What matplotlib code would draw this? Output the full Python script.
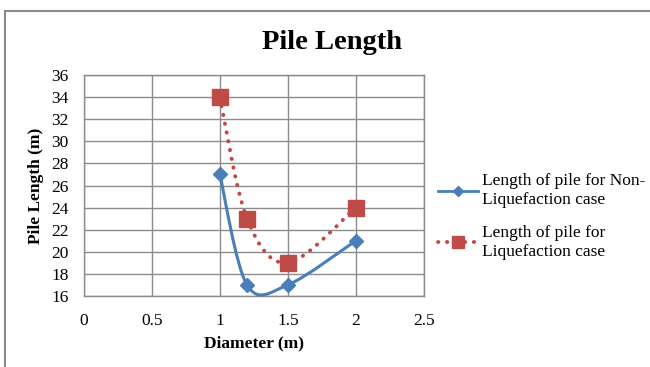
import matplotlib.pyplot as plt
from matplotlib.path import Path
from matplotlib.patches import PathPatch, Rectangle
from matplotlib.lines import Line2D

diameter = [1.0, 1.2, 1.5, 2.0]
non_liq = [27, 17, 17, 21]
liq = [34, 23, 19, 24]
xticks = [0, 0.5, 1, 1.5, 2, 2.5]
yticks = list(range(16, 37, 2))

blue = "#4a7ebb"
red = "#be4b48"
grid = "#8c8c8c"

plt.rcParams["font.family"] = ["Liberation Serif", "DejaVu Serif"]


def smooth_path(xs, ys):
    # Excel-style smoothed line: cubic Bezier through the points
    pts = list(zip(xs, ys))
    n = len(pts)
    verts = [pts[0]]
    codes = [Path.MOVETO]
    for i in range(n - 1):
        p0 = pts[max(i - 1, 0)]
        p1 = pts[i]
        p2 = pts[i + 1]
        p3 = pts[min(i + 2, n - 1)]
        c1 = (p1[0] + (p2[0] - p0[0]) / 6, p1[1] + (p2[1] - p0[1]) / 6)
        c2 = (p2[0] - (p3[0] - p1[0]) / 6, p2[1] - (p3[1] - p1[1]) / 6)
        verts += [c1, c2, p2]
        codes += [Path.CURVE4] * 3
    return Path(verts, codes)


fig = plt.figure(figsize=(6.5, 3.67), dpi=100)
ax = fig.add_axes([0.129, 0.1935, 0.523, 0.602])

ax.add_patch(PathPatch(smooth_path(diameter, non_liq), fill=False,
                       edgecolor=blue, lw=2.2, clip_on=False, zorder=3))
ax.add_patch(PathPatch(smooth_path(diameter, liq), fill=False,
                       edgecolor=red, lw=2.8, linestyle=(0, (0.1, 2.2)),
                       capstyle="round", clip_on=False, zorder=3))
ax.plot(diameter, non_liq, ls="none", marker="D", ms=7, color=blue,
        clip_on=False, zorder=4)
ax.plot(diameter, liq, ls="none", marker="s", ms=11, color=red,
        clip_on=False, zorder=4)

ax.set_xlim(0, 2.5)
ax.set_ylim(16, 36)
ax.set_xticks(xticks)
ax.set_xticklabels(["0", "0.5", "1", "1.5", "2", "2.5"])
ax.set_yticks(yticks)
ax.grid(True, color=grid, lw=1)
ax.set_axisbelow(True)
for s in ax.spines.values():
    s.set_color(grid)
    s.set_linewidth(1)
ax.tick_params(length=0, labelsize=12.5)
ax.tick_params(axis="y", pad=11)
ax.tick_params(axis="x", pad=12)

ax.set_xlabel("Diameter (m)", fontsize=12.5, fontweight="bold", labelpad=5)
ax.set_ylabel("Pile Length (m)", fontsize=12.5, fontweight="bold", labelpad=5)
fig.text(0.51, 1 - 49 / 367, "Pile Length", ha="center", va="baseline",
         fontsize=20.5, fontweight="bold")

handles = [
    Line2D([], [], color=blue, lw=2, marker="D", ms=5),
    Line2D([], [], color=red, lw=2.8, linestyle=(0, (0.1, 2.2)),
           dash_capstyle="round", marker="s", ms=9),
]
labels = ["Length of pile for Non-\nLiquefaction case",
          "Length of pile for\nLiquefaction case"]
fig.legend(handles, labels, loc="upper left", bbox_to_anchor=(0.661, 0.551),
           frameon=False, fontsize=12.5, handlelength=2.3, handletextpad=0.23,
           labelspacing=1.0, borderpad=0)

fig.patches.append(Rectangle((5 / 650, -0.1), 1.2, 1.1 - 11 / 367,
                             transform=fig.transFigure, fill=False,
                             edgecolor="#8a8a8a", lw=1.5))

fig.savefig("out.png", dpi=100)
